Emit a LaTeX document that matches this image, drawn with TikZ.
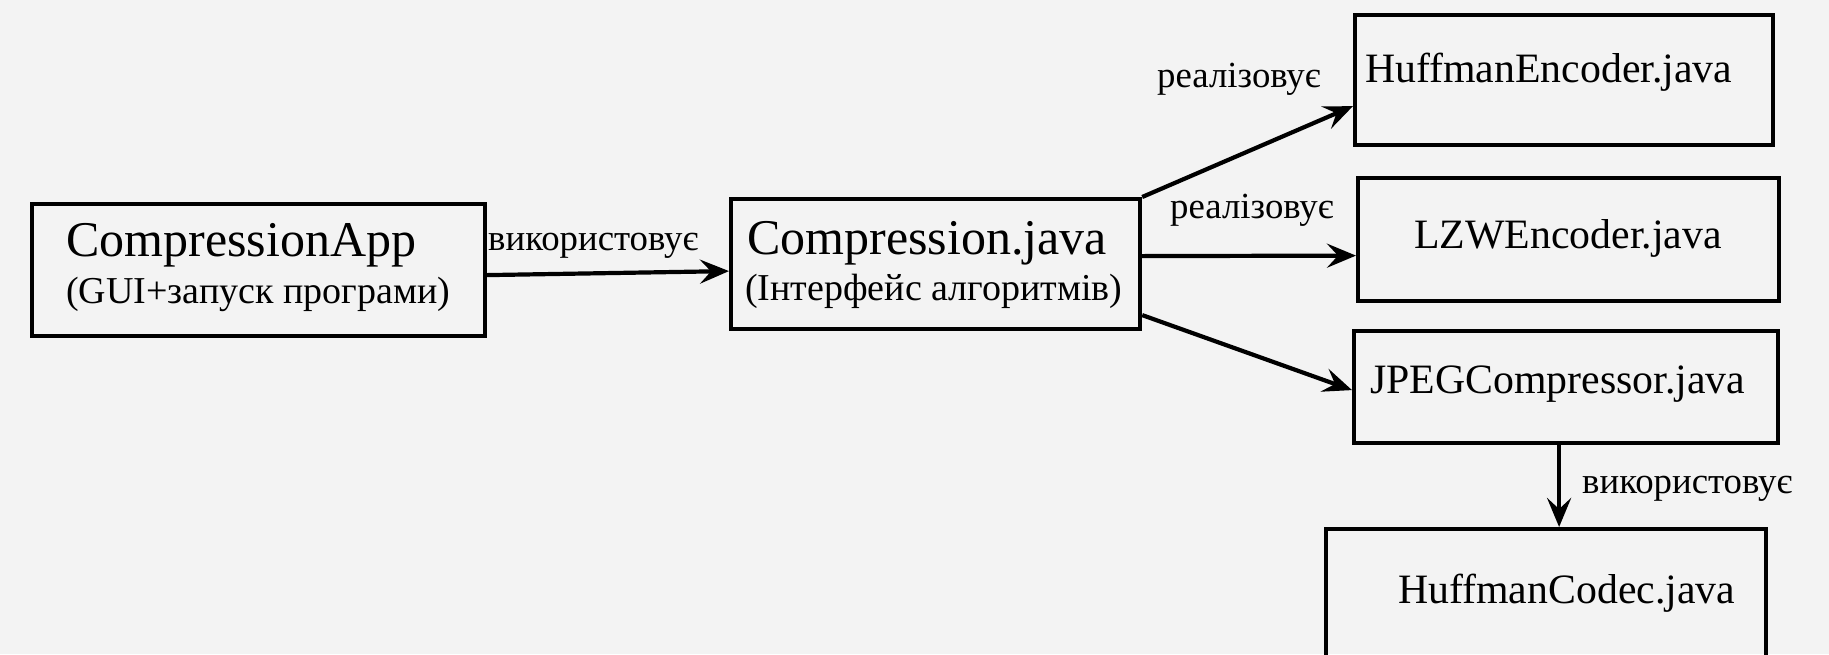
\documentclass[tikz,border=0pt]{standalone}
\usepackage{fontspec}
\setmainfont{Liberation Serif}
\usetikzlibrary{arrows.meta,calc}
\definecolor{bgc}{RGB}{243,243,243}
\tikzset{
  box/.style={draw=black, line width=4.2pt, rectangle, inner sep=0pt, anchor=north west},
  txt/.style={anchor=base west, inner sep=0pt, text=black},
  big/.style={txt, font=\fontsize{50}{56}\selectfont},
  small/.style={txt, font=\fontsize{38}{44}\selectfont},
  mid/.style={txt, font=\fontsize{41.8}{48}\selectfont},
  lbl/.style={txt, font=\fontsize{36.8}{42}\selectfont},
  conn/.style={line width=4.2pt, -{Stealth[length=29pt,width=24pt,inset=11pt]}}
}
\begin{document}
\begin{tikzpicture}[x=1pt,y=-1pt]
\fill[bgc] (0,0) rectangle (1829,654);
\useasboundingbox (0,0) rectangle (1829,654);
\clip (0,0) rectangle (1829,654);
% boxes
\node[box, minimum width=453pt, minimum height=132pt] (app) at (30,202) {};
\node[box, minimum width=409pt, minimum height=130pt] (comp) at (729,197) {};
\node[box, minimum width=418pt, minimum height=130pt] (henc) at (1353,13) {};
\node[box, minimum width=421pt, minimum height=123pt] (lzw) at (1356,176) {};
\node[box, minimum width=424pt, minimum height=112pt] (jpeg) at (1352,329) {};
\node[box, minimum width=440pt, minimum height=160pt] (hcod) at (1324,527) {};
% texts
\node[big] (t1) at (66,256) {CompressionApp};
\node[small] (t2) at (66,303) {(GUI+запуск програми)};
\node[big] (t3) at (747,254) {Compression.java};
\node[small] (t4) at (745,300) {(Інтерфейс алгоритмів)};
\node[mid] (t5) at (1365,82) {HuffmanEncoder.java};
\node[mid] (t6) at (1414,248) {LZWEncoder.java};
\node[mid] (t7) at (1370,393) {JPEGCompressor.java};
\node[mid] (t8) at (1398,603) {HuffmanCodec.java};
% labels
\node[lbl] (l1) at (488,250) {використовує};
\node[lbl] (l2) at (1157,87) {реалізовує};
\node[lbl] (l3) at (1170,218) {реалізовує};
\node[lbl] (l4) at (1582,493) {використовує};
% connectors
\draw[conn] ([yshift=-5pt]app.east) -- ([yshift=-7pt]comp.west);
\draw[conn] (comp.north east) -- ([yshift=-26pt]henc.west);
\draw[conn] ([yshift=8pt]comp.east) -- ([yshift=-16pt]lzw.west);
\draw[conn] ([yshift=-51pt]comp.east) -- ([yshift=-3pt]jpeg.west);
\draw[conn] ([xshift=-7pt]jpeg.south) -- ([xshift=-7pt]jpeg.south |- hcod.north);
\end{tikzpicture}
\end{document}
